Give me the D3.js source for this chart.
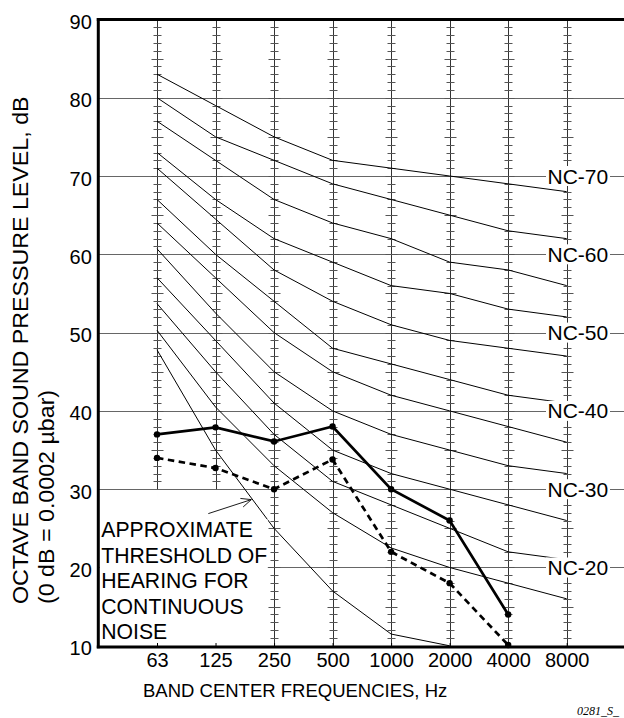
<!DOCTYPE html>
<html><head><meta charset="utf-8">
<script src="https://cdn.jsdelivr.net/npm/d3@7"></script>
<style>
body{margin:0;background:#fff}
svg{display:block}
text{font-family:"Liberation Sans",Arial,Helvetica,sans-serif;fill:#000}
</style>
</head><body>
<svg id="chart" width="624" height="718"></svg>
<script>
// ---------- data ----------
const frequencies = ["63","125","250","500","1000","2000","4000","8000"];
const yTickValues = [10,20,30,40,50,60,70,80,90];
const gridLevels = [20,30,40,50,60,70,80];
const shortColumns = ["63","125"];           // tick columns that stop at 30 dB
const ncNames = ["NC-70","NC-65","NC-60","NC-55","NC-50","NC-45","NC-40","NC-35","NC-30","NC-25","NC-20"];
const nc70 = [83, 79, 75, 72, 71, 70, 69, 68];
const nc65 = [80, 75, 72, 69, 67, 65, 63, 62];
const nc60 = [77, 72, 67, 64, 62, 59, 58, 56];
const nc55 = [73, 67, 62, 59, 56, 55, 53, 52];
const nc50 = [71, 64.5, 58, 54, 51, 49, 48, 47];
const nc45 = [67, 60, 54, 48, 46, 44, 42, 41];
const nc40 = [64, 57, 50, 45, 42, 40, 38, 36];
const nc35 = [60.7, 52.5, 45, 40, 37, 35, 33, 32];
const nc30 = [57, 49, 41, 35, 32, 30, 28, 26];
const nc25 = [53.7, 45, 37, 31, 28, 25, 22, 21];
const nc20 = [50.3, 40.5, 33, 27, 22.5, 20, 18, 16];
const thresholdFreqs = ["63","125","250","500","1000","2000"];
const thresholdValues = [47.8, 35, 25, 17, 11.5, 10];
const measuredFreqs = ["63","125","250","500","1000","2000","4000"];
const measuredSolid = [37, 37.9, 36.1, 38, 30, 26, 14];
const measuredDashed = [34, 32.7, 30, 33.8, 22, 18, 10.1];
const ncLabelTexts = ["NC-70","NC-60","NC-50","NC-40","NC-30","NC-20"];
const ncLabelLevels = [70,60,50,40,30,20];
const annotationLines = ["APPROXIMATE","THRESHOLD OF","HEARING FOR","CONTINUOUS","NOISE"];
const xTitle = "BAND CENTER FREQUENCIES, Hz";
const yTitle1 = "OCTAVE BAND SOUND PRESSURE LEVEL, dB";
const yTitle2 = "(0 dB = 0.0002 \u00B5bar)";
const figureId = "0281_S_";

const ncSeries = [nc70,nc65,nc60,nc55,nc50,nc45,nc40,nc35,nc30,nc25,nc20];

// ---------- layout ----------
const W = 624, H = 718;
const plotLeft = 98.3, plotRight = 624, plotTop = 19.4, plotBottom = 645.8;
const svg = d3.select("#chart");

const x = d3.scalePoint().domain(frequencies).range([157, 566.7]);
const y = d3.scaleLinear().domain([10, 90]).range([plotBottom, plotTop]);

// horizontal grid
svg.append("g").selectAll("line").data(gridLevels).join("line")
  .attr("x1", plotLeft).attr("x2", plotRight)
  .attr("y1", d => Math.round(y(d)) + 0.5).attr("y2", d => Math.round(y(d)) + 0.5)
  .attr("stroke", "#666").attr("stroke-width", 1);

// vertical frequency columns with dB ticks
const cols = svg.append("g");
frequencies.forEach(f => {
  const low = shortColumns.includes(f) ? 30 : 10;
  const cx = Math.round(x(f)) + 0.5;
  cols.append("line").attr("x1", cx).attr("x2", cx)
    .attr("y1", y(90)).attr("y2", y(low))
    .attr("stroke", "#333").attr("stroke-width", 1);
  const levels = d3.range(low + 1, 90);
  cols.append("g").selectAll("line").data(levels).join("line")
    .attr("x1", d => cx - (d % 5 === 0 ? 6 : 4))
    .attr("x2", d => cx + (d % 5 === 0 ? 6 : 4))
    .attr("y1", d => Math.round(y(d)) + 0.5).attr("y2", d => Math.round(y(d)) + 0.5)
    .attr("stroke", "#555").attr("stroke-width", 1);
});

// NC curves
const line = d3.line().x(d => x(d[0])).y(d => y(d[1]));
svg.append("g").selectAll("path").data(ncSeries).join("path")
  .attr("d", s => line(frequencies.map((f, i) => [f, s[i]])))
  .attr("fill", "none").attr("stroke", "#000").attr("stroke-width", 1);

// threshold curve
svg.append("path")
  .attr("d", line(thresholdFreqs.map((f, i) => [f, thresholdValues[i]])))
  .attr("fill", "none").attr("stroke", "#000").attr("stroke-width", 1);

// annotation box
const annFont = 21.2, annLead = 25.5;
const annX = plotLeft + 3;
const annLastBaseline = plotBottom - 6.5;
const annFirstBaseline = annLastBaseline - annLead * (annotationLines.length - 1);
svg.append("rect").attr("x", plotLeft + 1.5).attr("y", annFirstBaseline - 18)
  .attr("width", 168).attr("height", plotBottom - (annFirstBaseline - 18))
  .attr("fill", "#fff");
svg.append("g").selectAll("text").data(annotationLines).join("text")
  .attr("x", annX).attr("y", (d, i) => annFirstBaseline + i * annLead)
  .attr("font-size", annFont).text(d => d);

// arrow to the threshold curve
const t = 0.62;
const tipX = x("125") + t * (x("250") - x("125")) - 0.5;
const tipY = y(thresholdValues[1] + t * (thresholdValues[2] - thresholdValues[1])) + 1;
const tailX = tipX - 43, tailY = tipY + 14;
const ang = Math.atan2(tipY - tailY, tipX - tailX);
const headLen = 11, headSpread = 0.42;
svg.append("path")
  .attr("d", `M${tailX},${tailY}L${tipX},${tipY}` +
    `M${tipX - headLen*Math.cos(ang-headSpread)},${tipY - headLen*Math.sin(ang-headSpread)}L${tipX},${tipY}` +
    `L${tipX - headLen*Math.cos(ang+headSpread)},${tipY - headLen*Math.sin(ang+headSpread)}`)
  .attr("fill", "none").attr("stroke", "#000").attr("stroke-width", 0.9);

// NC labels
const lab = svg.append("g");
ncLabelTexts.forEach((txt, i) => {
  const ly = y(ncLabelLevels[i]);
  lab.append("rect").attr("x", 546).attr("y", ly - 10).attr("width", 64).attr("height", 20).attr("fill", "#fff");
  lab.append("text").attr("x", 547.5).attr("y", ly).attr("dy", "0.36em")
    .attr("font-size", 21).text(txt);
});

// measured spectra
const solidPts = measuredFreqs.map((f, i) => [f, measuredSolid[i]]);
const dashedPts = measuredFreqs.map((f, i) => [f, measuredDashed[i]]);
svg.append("path").attr("d", line(dashedPts)).attr("fill", "none")
  .attr("stroke", "#000").attr("stroke-width", 2.7).attr("stroke-dasharray", "6.5,4.5");
svg.append("path").attr("d", line(solidPts)).attr("fill", "none")
  .attr("stroke", "#000").attr("stroke-width", 2.7);
svg.append("g").selectAll("circle").data(solidPts.concat(dashedPts)).join("circle")
  .attr("cx", d => x(d[0])).attr("cy", d => y(d[1])).attr("r", 3.2).attr("fill", "#000");

// frame
svg.append("line").attr("x1", plotLeft).attr("x2", plotLeft).attr("y1", plotTop - 1.5).attr("y2", plotBottom + 2.5)
  .attr("stroke", "#000").attr("stroke-width", 3);
svg.append("line").attr("x1", plotLeft - 1.5).attr("x2", plotRight).attr("y1", plotTop).attr("y2", plotTop)
  .attr("stroke", "#000").attr("stroke-width", 3);
svg.append("line").attr("x1", plotLeft - 1.5).attr("x2", plotRight).attr("y1", plotBottom + 1.2).attr("y2", plotBottom + 1.2)
  .attr("stroke", "#000").attr("stroke-width", 3);

// axes
const xAxis = svg.append("g").attr("transform", `translate(0,${plotBottom + 1.2})`)
  .call(d3.axisBottom(x).tickSize(-4).tickPadding(6));
xAxis.select(".domain").remove();
xAxis.selectAll("text").attr("font-size", 20).attr("font-family", "Liberation Sans, Arial, sans-serif").attr("fill", "#000");
xAxis.selectAll("line").attr("stroke", "#000");

const yAxis = svg.append("g").attr("transform", `translate(${plotLeft},0)`)
  .call(d3.axisLeft(y).tickValues(yTickValues).tickSize(0).tickPadding(6.5));
yAxis.select(".domain").remove();
yAxis.selectAll("text").attr("font-size", 20).attr("dy", "0.45em")
  .attr("font-family", "Liberation Sans, Arial, sans-serif").attr("fill", "#000");

// titles
svg.append("text").attr("x", 143).attr("y", 696.5).attr("font-size", 18.5).text(xTitle);
const yt1 = svg.append("text").attr("transform", "translate(28,604) rotate(-90)").attr("font-size", 21.5).text(yTitle1);
const yt2 = svg.append("text").attr("transform", "translate(53.5,604) rotate(-90)").attr("font-size", 21.5).text(yTitle2);
[yt1, yt2].forEach(tn => {
  const len = tn.node().getComputedTextLength();
  tn.attr("textLength", len * 1.08).attr("lengthAdjust", "spacingAndGlyphs");
});
svg.append("text").attr("x", 577).attr("y", 715).attr("font-size", 12)
  .attr("font-style", "italic").style("font-family", "'Liberation Serif','Times New Roman',serif").text(figureId);
</script>
</body></html>
